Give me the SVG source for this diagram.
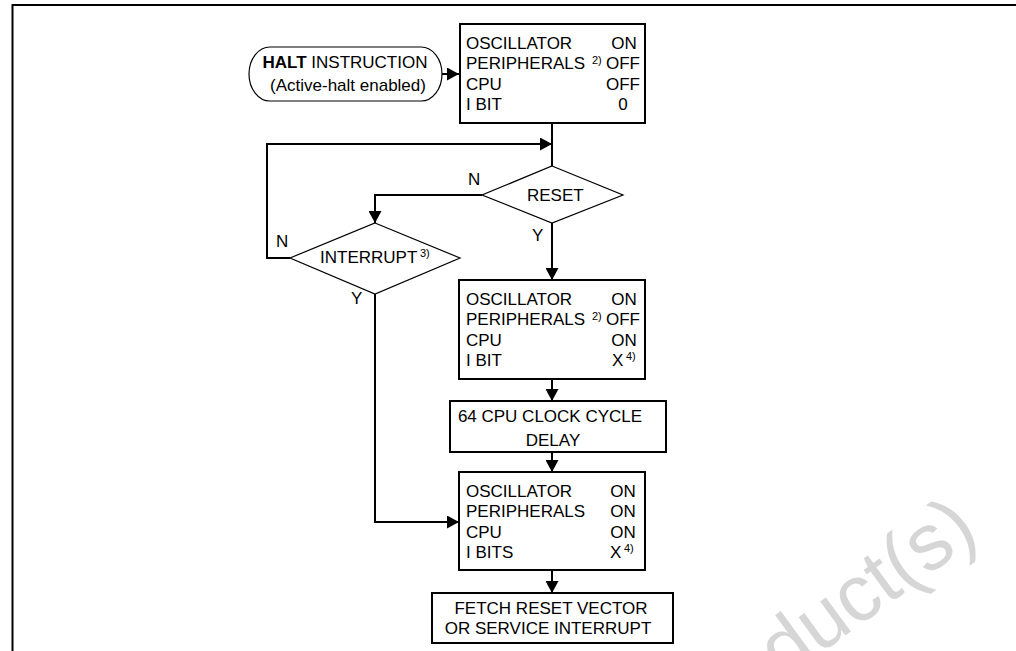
<svg xmlns="http://www.w3.org/2000/svg" width="1016" height="651" viewBox="0 0 1016 651">
<style>
text{font-family:"Liberation Sans",Arial,Helvetica,sans-serif;font-size:17px;fill:#000}
.b{fill:#fff;stroke:#000;stroke-width:2}
.t{fill:#fff;stroke:#000;stroke-width:1.2}
.c{fill:none;stroke:#000;stroke-width:2}
.s{font-size:11px}
.m{text-anchor:middle}
.wm{font-size:80px;fill:#d6d6d6;text-anchor:end}
</style>
<defs>
<marker id="ah" markerUnits="userSpaceOnUse" markerWidth="13" markerHeight="13" refX="12" refY="6.5" orient="auto">
<path d="M0,0 L12,6.5 L0,13 Z" fill="#000"/>
</marker>
</defs>
<rect width="1016" height="651" fill="#fff"/>
<text class="wm" transform="translate(981,537) rotate(-36)">Product(s)</text>
<rect x="12.5" y="5" width="1020" height="660" fill="none" stroke="#000" stroke-width="2"/>

<g id="connectors">
<path class="c" d="M442,74 H459" marker-end="url(#ah)"/>
<path class="c" d="M552,123 V166"/>
<path class="c" d="M290,258 H267 V144 H552" marker-end="url(#ah)"/>
<path class="c" d="M482,195 H375 V223" marker-end="url(#ah)"/>
<path class="c" d="M552,223 V280" marker-end="url(#ah)"/>
<path class="c" d="M552,379 V401" marker-end="url(#ah)"/>
<path class="c" d="M552,452 V472" marker-end="url(#ah)"/>
<path class="c" d="M375,294 V522 H459" marker-end="url(#ah)"/>
<path class="c" d="M552,570 V593" marker-end="url(#ah)"/>
<text x="468" y="185">N</text>
<text x="532" y="241">Y</text>
<text x="276" y="247">N</text>
<text x="351" y="304">Y</text>
</g>

<g id="halt">
<rect class="t" x="249" y="47" width="193" height="54" rx="21" ry="27"/>
<text class="m" x="345" y="68"><tspan font-weight="bold">HALT</tspan> INSTRUCTION</text>
<text class="m" x="348" y="91">(Active-halt enabled)</text>
</g>

<g id="state1">
<rect class="b" x="460" y="24" width="185" height="99"/>
<text x="466" y="49">OSCILLATOR</text>
<text x="466" y="69.3">PERIPHERALS</text>
<text class="s" x="592" y="63.5">2)</text>
<text x="466" y="89.6">CPU</text>
<text x="466" y="110">I BIT</text>
<text class="m" x="624" y="49">ON</text>
<text class="m" x="623" y="69.3">OFF</text>
<text class="m" x="623" y="89.6">OFF</text>
<text class="m" x="623" y="110">0</text>
</g>

<g id="reset">
<path class="t" d="M552,166 L623,195 L552,223 L482,195 Z"/>
<text x="527" y="201">RESET</text>
</g>

<g id="interrupt">
<path class="t" d="M375,223 L460,258 L375,294 L290,258 Z"/>
<text x="320" y="263">INTERRUPT</text>
<text class="s" x="420" y="257">3)</text>
</g>

<g id="state2">
<rect class="b" x="459" y="280" width="186" height="99"/>
<text x="466" y="305">OSCILLATOR</text>
<text x="466" y="325.3">PERIPHERALS</text>
<text class="s" x="592" y="319.5">2)</text>
<text x="466" y="345.6">CPU</text>
<text x="466" y="366">I BIT</text>
<text class="m" x="624" y="305">ON</text>
<text class="m" x="623" y="325.3">OFF</text>
<text class="m" x="624" y="345.6">ON</text>
<text x="612" y="366">X</text>
<text class="s" x="626" y="360">4)</text>
</g>

<g id="delay">
<rect class="b" x="450" y="401" width="216" height="51"/>
<text class="m" x="550" y="421.5">64 CPU CLOCK CYCLE</text>
<text class="m" x="553" y="446">DELAY</text>
</g>

<g id="state3">
<rect class="b" x="459" y="472" width="186" height="98"/>
<text x="466" y="497">OSCILLATOR</text>
<text x="466" y="517.3">PERIPHERALS</text>
<text x="466" y="537.6">CPU</text>
<text x="466" y="558">I BITS</text>
<text class="m" x="623" y="497">ON</text>
<text class="m" x="623" y="517.3">ON</text>
<text class="m" x="623" y="537.6">ON</text>
<text x="610" y="558">X</text>
<text class="s" x="624" y="552">4)</text>
</g>

<g id="fetch">
<rect class="b" x="432" y="593" width="241" height="50"/>
<text class="m" x="551" y="613.5">FETCH RESET VECTOR</text>
<text class="m" x="548" y="634">OR SERVICE INTERRUPT</text>
</g>
</svg>
